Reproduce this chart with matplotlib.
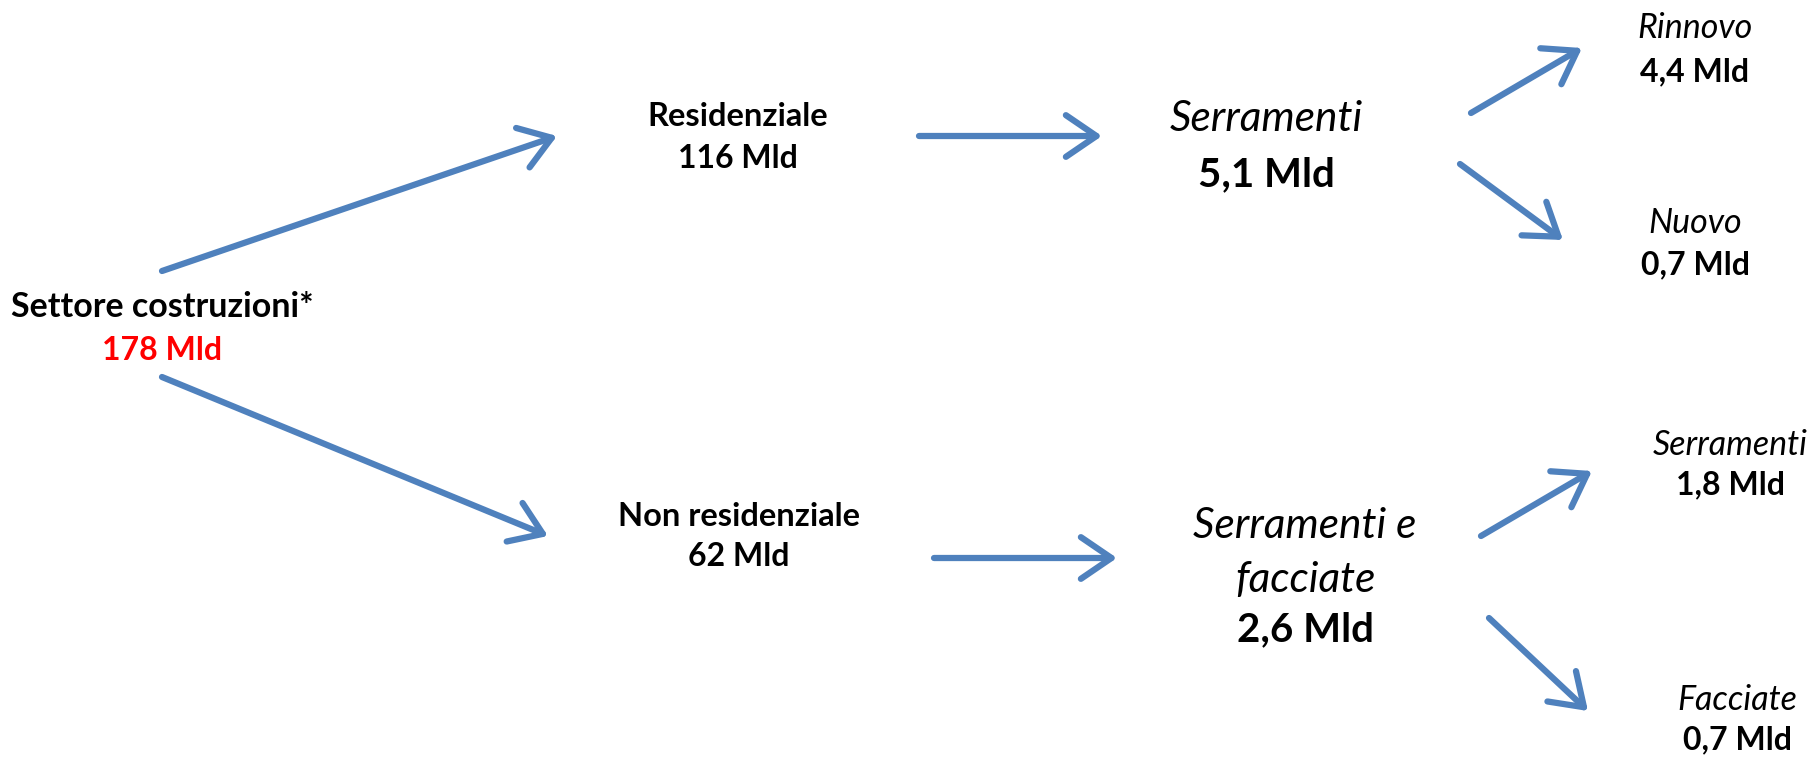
import matplotlib
matplotlib.use("Agg")
import matplotlib.pyplot as plt
from matplotlib.patches import FancyArrowPatch

plt.rcParams['font.family'] = ['Lato', 'DejaVu Sans']

# etichette e valori (miliardi)
nomi = ["Settore costruzioni*", "Residenziale", "Non residenziale",
        "Serramenti", "Serramenti e\nfacciate",
        "Rinnovo", "Nuovo", "Serramenti", "Facciate"]
valori = ["178 Mld", "116 Mld", "62 Mld",
          "5,1 Mld", "2,6 Mld",
          "4,4 Mld", "0,7 Mld", "1,8 Mld", "0,7 Mld"]

# posizione dei nodi (pixel), riga nome / riga valore
pos_x = [162, 738, 739, 1266, 1305, 1695, 1695, 1730, 1737]
pos_nome_y = [307, 117, 516, 119, 553, 28, 223, 445, 700]
pos_val_y = [350, 158, 557, 175, 630, 72, 265, 485, 740]
stile_nome = ["bold", "bold", "bold", "italic", "italic",
              "italic", "italic", "italic", "italic"]
dim_nome = [24.5, 23.5, 23.5, 30.5, 30.5, 24.5, 24.5, 24.5, 24.5]
dim_val = [23, 23, 23, 29, 29, 23, 23, 23, 23]

# frecce: (da, a) in pixel
frecce_da = [(162, 271), (162, 377), (919, 136), (934, 558),
             (1471, 113), (1460, 164), (1481, 536), (1489, 618)]
frecce_a = [(557, 136), (548, 536), (1102, 136), (1117, 558),
            (1582, 48), (1563, 240), (1592, 471), (1588, 711)]

blu = "#4F81BD"

fig = plt.figure(figsize=(18.19, 7.59), dpi=100)
ax = fig.add_axes([0, 0, 1, 1])
ax.set_xlim(0, 1819)
ax.set_ylim(759, 0)
ax.axis("off")

for da, a in zip(frecce_da, frecce_a):
    fr = FancyArrowPatch(da, a, arrowstyle="->,head_length=1.1,head_width=0.75",
                         mutation_scale=20, lw=4.5, color=blu,
                         shrinkA=0, shrinkB=0, capstyle="round", joinstyle="round")
    ax.add_patch(fr)

for i in range(len(nomi)):
    peso = "bold" if stile_nome[i] == "bold" else "normal"
    st = "italic" if stile_nome[i] == "italic" else "normal"
    ax.text(pos_x[i], pos_nome_y[i], nomi[i], ha="center", va="center",
            fontsize=dim_nome[i], fontweight=peso, fontstyle=st,
            linespacing=1.53)
    col = "#FF0000" if i == 0 else "black"
    ax.text(pos_x[i], pos_val_y[i], valori[i], ha="center", va="center",
            fontsize=dim_val[i], fontweight="bold", color=col)

fig.savefig("out.png", dpi=100)
